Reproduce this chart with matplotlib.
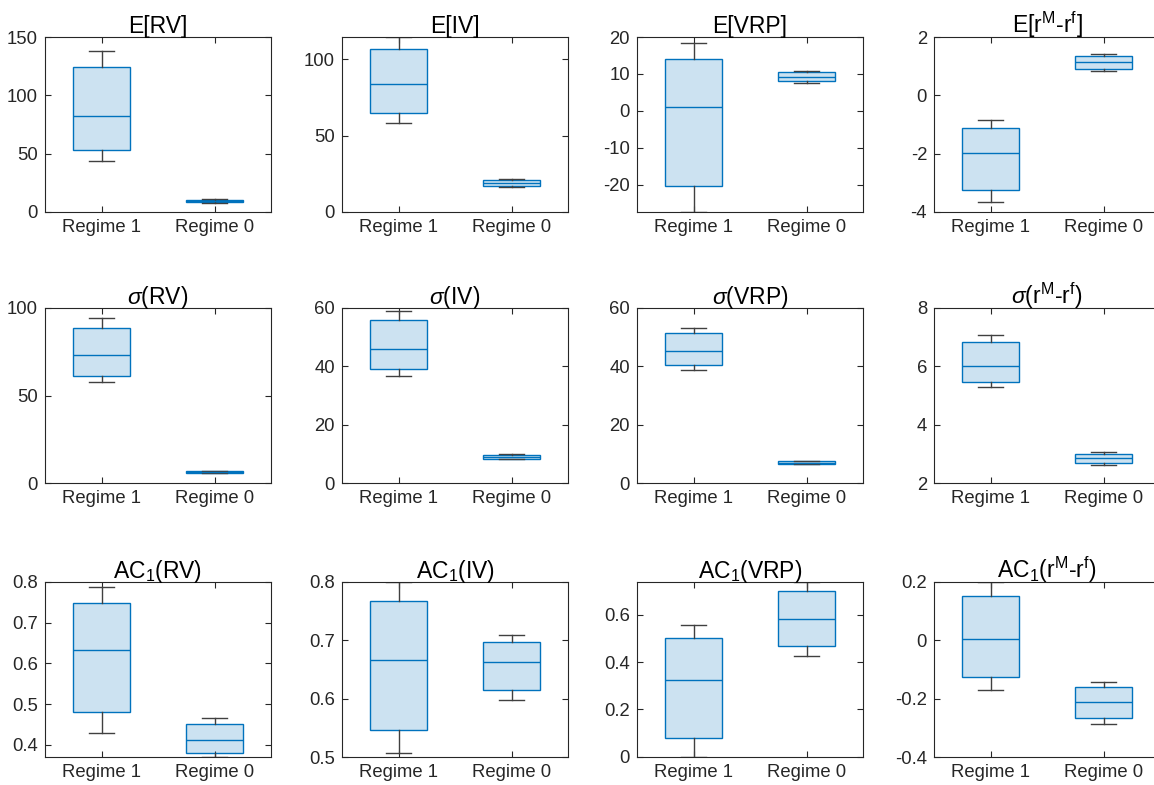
import matplotlib
matplotlib.use("Agg")
import matplotlib.pyplot as plt

plt.rcParams['font.family'] = ['Liberation Sans', 'DejaVu Sans']
plt.rcParams['mathtext.fontset'] = 'custom'
plt.rcParams['mathtext.rm'] = 'Liberation Sans'
plt.rcParams['mathtext.it'] = 'Liberation Sans:italic'

regimes = ["Regime 1", "Regime 0"]

titles = [
    "E[RV]", "E[IV]", "E[VRP]", r"E[r$^{\mathrm{M}}$-r$^{\mathrm{f}}$]",
    r"$\sigma$(RV)", r"$\sigma$(IV)", r"$\sigma$(VRP)", r"$\sigma$(r$^{\mathrm{M}}$-r$^{\mathrm{f}}$)",
    r"AC$_{\mathrm{1}}$(RV)", r"AC$_{\mathrm{1}}$(IV)", r"AC$_{\mathrm{1}}$(VRP)",
    r"AC$_{\mathrm{1}}$(r$^{\mathrm{M}}$-r$^{\mathrm{f}}$)",
]

# Box statistics per panel: [Regime 1, Regime 0]
whisker_low = [
    [43.3, 7.8], [58.5, 16.4], [-27.3, 7.7], [-3.66, 0.85],
    [57.5, 5.7], [36.8, 8.1], [38.8, 6.5], [5.30, 2.63],
    [0.430, 0.370], [0.507, 0.598], [-0.002, 0.427], [-0.170, -0.287],
]
quart_1 = [
    [53.0, 8.5], [64.8, 17.2], [-20.3, 8.2], [-3.24, 0.92],
    [61.3, 6.0], [39.2, 8.3], [40.4, 6.6], [5.48, 2.68],
    [0.480, 0.381], [0.547, 0.614], [0.079, 0.466], [-0.125, -0.267],
]
medians = [
    [82.4, 9.4], [83.8, 19.0], [1.0, 9.3], [-1.98, 1.13],
    [73.2, 6.4], [45.9, 8.9], [45.3, 7.0], [6.01, 2.87],
    [0.633, 0.413], [0.667, 0.662], [0.324, 0.583], [0.006, -0.211],
]
quart_3 = [
    [124.3, 10.6], [106.8, 20.7], [14.1, 10.5], [-1.13, 1.36],
    [88.8, 6.9], [55.9, 9.6], [51.3, 7.4], [6.83, 2.99],
    [0.749, 0.452], [0.768, 0.697], [0.502, 0.703], [0.151, -0.159],
]
whisker_high = [
    [138.0, 11.2], [114.4, 21.8], [18.5, 10.9], [-0.85, 1.42],
    [94.1, 7.1], [59.1, 9.9], [53.3, 7.6], [7.09, 3.06],
    [0.788, 0.465], [0.800, 0.710], [0.559, 0.739], [0.200, -0.143],
]

y_limits = [
    (0, 150), (0, 114.5), (-27.3, 20), (-4, 2),
    (0, 100), (0, 60), (0, 60), (2, 8),
    (0.370, 0.8), (0.5, 0.8), (-0.002, 0.739), (-0.4, 0.2),
]
y_ticks = [
    [0, 50, 100, 150], [0, 50, 100], [-20, -10, 0, 10, 20], [-4, -2, 0, 2],
    [0, 50, 100], [0, 20, 40, 60], [0, 20, 40, 60], [2, 4, 6, 8],
    [0.4, 0.5, 0.6, 0.7, 0.8], [0.5, 0.6, 0.7, 0.8], [0, 0.2, 0.4, 0.6], [-0.4, -0.2, 0, 0.2],
]
y_ticklabels = [
    ["0", "50", "100", "150"], ["0", "50", "100"], ["-20", "-10", "0", "10", "20"], ["-4", "-2", "0", "2"],
    ["0", "50", "100"], ["0", "20", "40", "60"], ["0", "20", "40", "60"], ["2", "4", "6", "8"],
    ["0.4", "0.5", "0.6", "0.7", "0.8"], ["0.5", "0.6", "0.7", "0.8"], ["0", "0.2", "0.4", "0.6"],
    ["-0.4", "-0.2", "0", "0.2"],
]

W, H = 1154, 785
fig = plt.figure(figsize=(W / 100, H / 100), dpi=100)

col_left = [45, 342, 637, 934]
row_top = [37, 308, 582]
ax_w, ax_h = 226, 175

blue = '#0072BD'
dark = '#262626'

for i in range(12):
    r, c = divmod(i, 4)
    ax = fig.add_axes([col_left[c] / W, 1 - (row_top[r] + ax_h) / H, ax_w / W, ax_h / H])
    stats = []
    for j in range(2):
        stats.append(dict(whislo=whisker_low[i][j], q1=quart_1[i][j], med=medians[i][j],
                          q3=quart_3[i][j], whishi=whisker_high[i][j], fliers=[]))
    ax.bxp(stats, positions=[1, 2], widths=0.5, patch_artist=True, showfliers=False,
           boxprops=dict(facecolor=(0 / 255, 114 / 255, 189 / 255, 0.2), edgecolor=blue, linewidth=1.0),
           medianprops=dict(color=blue, linewidth=1.0),
           whiskerprops=dict(color='#404040', linewidth=1.0),
           capprops=dict(color='#404040', linewidth=1.0),
           capwidths=0.22, zorder=2)
    ax.set_xlim(0.5, 2.5)
    ax.set_ylim(*y_limits[i])
    ax.set_yticks(y_ticks[i])
    ax.set_yticklabels(y_ticklabels[i])
    ax.set_xticks([1, 2])
    ax.set_xticklabels(regimes)
    ax.tick_params(direction='in', top=True, right=True, length=4, width=0.8,
                   colors=dark, labelsize=13.3, pad=5)
    for s in ax.spines.values():
        s.set_color(dark)
        s.set_linewidth(0.8)
    ax.set_title(titles[i], fontsize=16.5, color='black', pad=3)

fig.savefig("out.png", dpi=100)
